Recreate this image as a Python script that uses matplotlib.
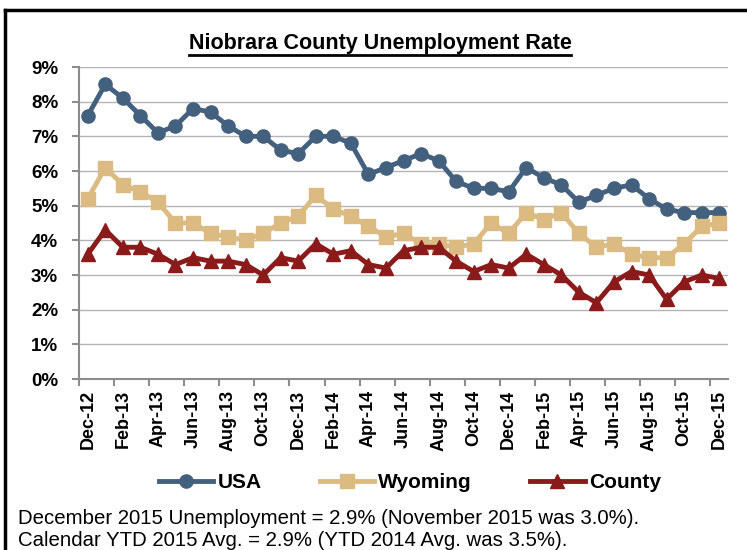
import matplotlib
matplotlib.use("Agg")
import matplotlib.pyplot as plt
from matplotlib.lines import Line2D
import numpy as np

plt.rcParams["font.family"] = ["Liberation Sans", "DejaVu Sans"]

USA_COLOR = "#44607f"
WY_COLOR = "#dcbb82"
COUNTY_COLOR = "#8b1a1a"
AXIS = "#8c8c8c"
GRID = "#b4b4b4"

MONTHS = ["Dec-12", "Jan-13", "Feb-13", "Mar-13", "Apr-13", "May-13", "Jun-13", "Jul-13",
          "Aug-13", "Sep-13", "Oct-13", "Nov-13", "Dec-13", "Jan-14", "Feb-14", "Mar-14",
          "Apr-14", "May-14", "Jun-14", "Jul-14", "Aug-14", "Sep-14", "Oct-14", "Nov-14",
          "Dec-14", "Jan-15", "Feb-15", "Mar-15", "Apr-15", "May-15", "Jun-15", "Jul-15",
          "Aug-15", "Sep-15", "Oct-15", "Nov-15", "Dec-15"]
USA = [7.6, 8.5, 8.1, 7.6, 7.1, 7.3, 7.8, 7.7, 7.3, 7.0, 7.0, 6.6, 6.5,
       7.0, 7.0, 6.8, 5.9, 6.1, 6.3, 6.5, 6.3, 5.7, 5.5, 5.5, 5.4,
       6.1, 5.8, 5.6, 5.1, 5.3, 5.5, 5.6, 5.2, 4.9, 4.8, 4.8, 4.8]
WYOMING = [5.2, 6.1, 5.6, 5.4, 5.1, 4.5, 4.5, 4.2, 4.1, 4.0, 4.2, 4.5, 4.7,
           5.3, 4.9, 4.7, 4.4, 4.1, 4.2, 3.9, 3.9, 3.8, 3.9, 4.5, 4.2,
           4.8, 4.6, 4.8, 4.2, 3.8, 3.9, 3.6, 3.5, 3.5, 3.9, 4.4, 4.5]
COUNTY = [3.6, 4.3, 3.8, 3.8, 3.6, 3.3, 3.5, 3.4, 3.4, 3.3, 3.0, 3.5, 3.4,
          3.9, 3.6, 3.7, 3.3, 3.2, 3.7, 3.8, 3.8, 3.4, 3.1, 3.3, 3.2,
          3.6, 3.3, 3.0, 2.5, 2.2, 2.8, 3.1, 3.0, 2.3, 2.8, 3.0, 2.9]
Y_TICKS = [0, 1, 2, 3, 4, 5, 6, 7, 8, 9]
NOTES = ["December 2015 Unemployment = 2.9% (November 2015 was 3.0%).",
         "Calendar YTD 2015 Avg. = 2.9% (YTD 2014 Avg. was 3.5%)."]


def main():
    W, H = 747, 550
    fig = plt.figure(figsize=(W / 100, H / 100), dpi=100, facecolor="white")
    ax = fig.add_axes([79 / W, 1 - 379 / H, (728 - 79) / W, (379 - 67) / H])
    x = np.arange(len(MONTHS))

    ax.plot(x, USA, color=USA_COLOR, lw=3.5, marker="o", ms=9.5, label="USA", zorder=3)
    ax.plot(x, WYOMING, color=WY_COLOR, lw=3.5, marker="s", ms=9.5, label="Wyoming", zorder=3)
    ax.plot(x, COUNTY, color=COUNTY_COLOR, lw=3.5, marker="^", ms=10.5, label="County",
            zorder=3)

    ax.set_xlim(-0.5, len(MONTHS) - 0.5)
    ax.set_ylim(0, 9)
    ax.set_yticks(Y_TICKS)
    ax.set_yticklabels([f"{v}%" for v in Y_TICKS], fontsize=13.5, fontweight="bold")
    ax.set_xticks(x[::2])
    ax.set_xticklabels(MONTHS[::2], rotation=90, fontsize=13, fontweight="bold")
    ax.set_xticks(np.arange(-0.5, len(MONTHS), 2), minor=True)
    ax.tick_params(axis="x", which="major", length=0, pad=8)
    ax.tick_params(axis="x", which="minor", length=5, color=AXIS, width=1.5)
    ax.tick_params(axis="y", length=5, color=AXIS, width=1.5, pad=10)
    ax.grid(True, axis="y", color=GRID, lw=1, zorder=0)
    for side in ["top", "right"]:
        ax.spines[side].set_visible(False)
    for side in ["left", "bottom"]:
        ax.spines[side].set_color(AXIS)
        ax.spines[side].set_linewidth(1.5)

    fig.legend(loc="center", bbox_to_anchor=(410 / W, 1 - 483 / H), ncol=3,
               frameon=False, handlelength=2.6, columnspacing=2.8, handletextpad=0.2,
               prop={"weight": "bold", "size": 15})

    title = fig.text(380 / W, 1 - 43 / H, "Niobrara County Unemployment Rate",
                     ha="center", va="center", fontsize=15.5, fontweight="bold")
    fig.canvas.draw()
    bb = title.get_window_extent().transformed(fig.transFigure.inverted())
    fig.add_artist(Line2D([bb.x0, bb.x1], [bb.y0 - 0.002, bb.y0 - 0.002], color="black",
                          lw=2, transform=fig.transFigure))

    for i, note in enumerate(NOTES):
        fig.text(18 / W, 1 - (518 + 22 * i) / H, note, ha="left", va="center", fontsize=14.7)

    fig.add_artist(Line2D([5 / W, 5 / W], [0, 1 - 10 / H], color="black", lw=2.5,
                          transform=fig.transFigure))
    fig.add_artist(Line2D([5 / W, 1], [1 - 10 / H, 1 - 10 / H], color="black", lw=2.5,
                          transform=fig.transFigure))

    fig.savefig("out.png", dpi=100, facecolor="white")
    plt.close(fig)


if __name__ == "__main__":
    main()
